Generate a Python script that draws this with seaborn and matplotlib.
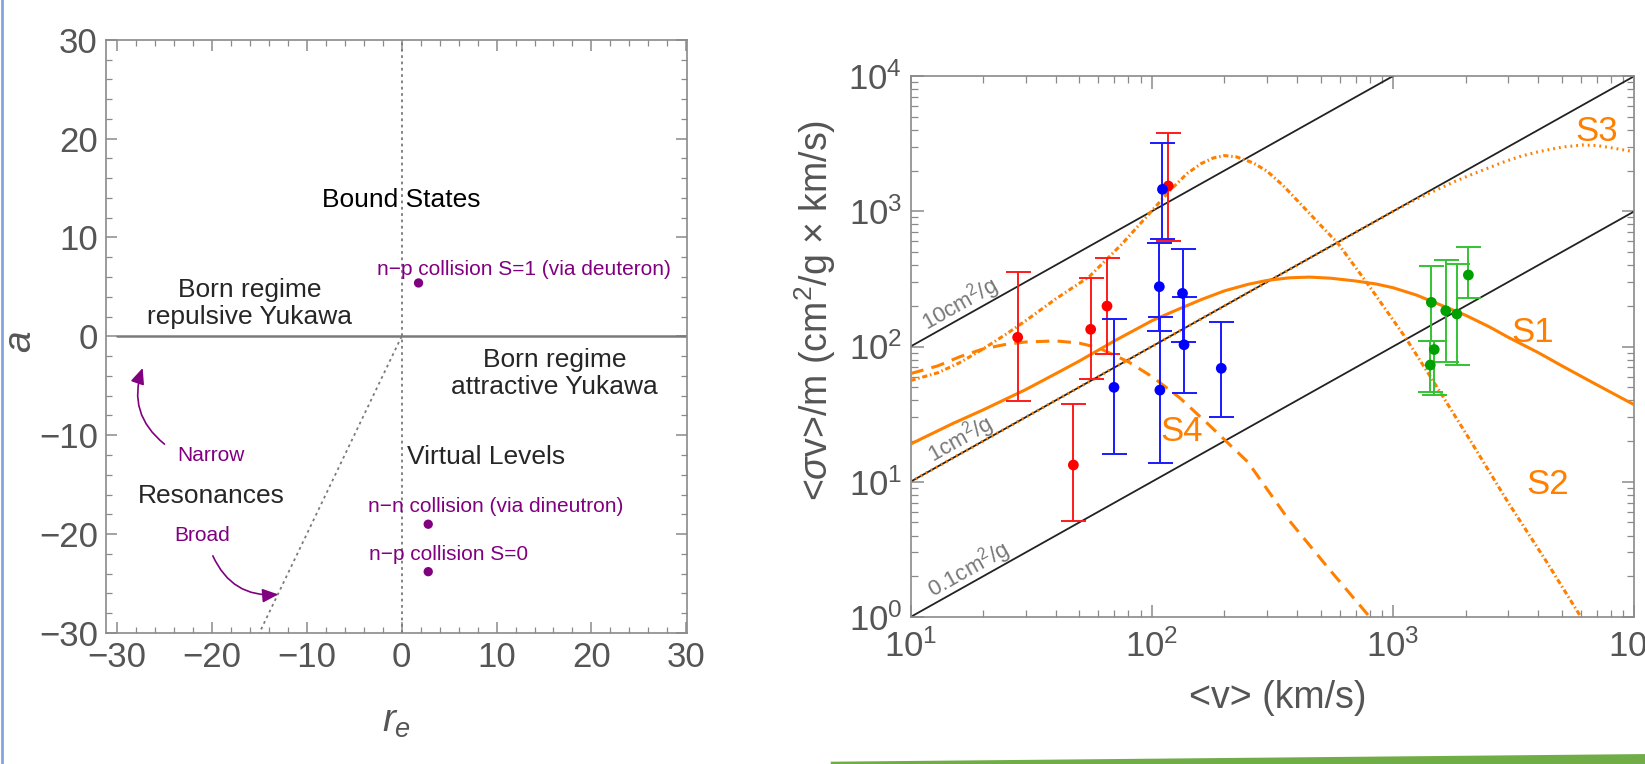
import matplotlib
matplotlib.use("Agg")
import matplotlib.pyplot as plt
import matplotlib.ticker as mticker
from matplotlib.lines import Line2D
from matplotlib.patches import Polygon
import seaborn as sns
import pandas as pd
import numpy as np

sns.set_theme(style="ticks")
plt.rcParams["font.family"] = ["Liberation Sans", "DejaVu Sans"]
plt.rcParams["mathtext.fontset"] = "custom"
plt.rcParams["mathtext.rm"] = "Liberation Sans"
plt.rcParams["mathtext.it"] = "Liberation Sans:italic"
plt.rcParams["mathtext.sf"] = "Liberation Sans"

PURPLE = "#800080"
ORANGE = "#ff8000"
GRAY = "#555555"
FRAME = "#8a8a8a"

# ----------------------------
# Left panel data (effective range r_e vs scattering length a)
# ----------------------------
nucleon_names = ["n\u2212p collision S=1 (via deuteron)",
                 "n\u2212n collision (via dineutron)",
                 "n\u2212p collision S=0"]
nucleon_re = [1.78, 2.8, 2.8]
nucleon_a = [5.4, -19.0, -23.8]
nucleon_label_x = [12.85, 9.95, 4.9]
nucleon_label_y = [6.8, -17.2, -22.1]

boundary_re = [0, -15]
boundary_a = [0, -30]

# ----------------------------
# Right panel data (<sigma v>/m vs <v>)
# ----------------------------
ref_v = [10, 10000]
ref_names = ["10cm$^2$/g", "1cm$^2$/g", "0.1cm$^2$/g"]
ref_values = [[100, 100000], [10, 10000], [1, 1000]]
ref_label_v = [16.0, 16.0, 17.3]
ref_label_y = [205, 20.5, 2.25]

s1_v = [10, 15, 20, 30, 40, 50, 70, 100, 130, 160, 200, 250, 300, 370, 450, 550, 700, 850, 1000,
        1250, 1500, 2000, 2500, 3000, 4000, 5000, 7000, 10000]
s1_y = [19, 27, 34, 48, 63, 78, 110, 155, 190, 222, 258, 288, 308, 322, 326, 320, 305, 290, 272,
        240, 210, 170, 140, 117, 90, 72, 52, 37]

s2_v = [10, 13, 16, 20, 25, 30, 40, 55, 75, 95, 120, 140, 160, 180, 200, 225, 263, 300, 350, 410,
        500, 590, 790, 1130, 1500, 2080, 3000, 4300, 6000]
s2_y = [56, 64, 76, 96, 124, 155, 225, 328, 570, 910, 1450, 1900, 2250, 2480, 2580, 2520, 2280,
        1980, 1550, 1150, 790, 580, 285, 115, 52, 20.4, 7.0, 2.6, 1.0]

s3_v = [10, 100, 1000, 1250, 1510, 1800, 2090, 2500, 2890, 3400, 4000, 5000, 6100, 7000, 8000, 10000]
s3_y = [10, 100, 1000, 1230, 1436, 1660, 1854, 2100, 2323, 2560, 2754, 2980, 3090, 3060, 2950, 2750]

s4_v = [10, 13, 16, 20, 25, 30, 40, 50, 60, 80, 100, 130, 170, 250, 370, 550, 800]
s4_y = [63, 72, 84, 96, 104, 108, 110, 106, 98, 77, 60, 42, 27, 14, 5.2, 2.2, 1.0]

curve_names = ["S1", "S2", "S3", "S4"]
curve_label_v = [3800, 4350, 7000, 133]
curve_label_y = [128, 9.5, 3900, 23.4]

red_v = [27.8, 47.3, 55.8, 65.2, 117]
red_y = [117, 13.3, 134, 199, 1538]
red_lo = [39.5, 5.15, 57.2, 87.5, 603]
red_hi = [354, 37.4, 319, 454, 3770]

blue_v = [69.7, 107.4, 110.7, 108, 134, 136, 194]
blue_y = [49.9, 277, 1453, 47.6, 247, 103, 69]
blue_lo = [16.0, 131, 621, 13.7, 108, 45.6, 30.3]
blue_hi = [160, 586, 3210, 164, 528, 233, 153]

green_v = [1440, 1652, 1837, 2050, 1480, 1425]
green_y = [212, 184, 174, 338, 95, 73]
green_lo = [110, 77, 73, 227, 44, 46.4]
green_hi = [396, 437, 408, 545, 110, 110]

# ----------------------------
# Figure
# ----------------------------
fig = plt.figure(figsize=(16.45, 7.64), dpi=100)
ax1 = fig.add_axes([0.0645, 0.1715, 0.353, 0.7765])
ax2 = fig.add_axes([0.5535, 0.1924, 0.4401, 0.7081])

for ax in (ax1, ax2):
    for sp in ax.spines.values():
        sp.set_color(FRAME)
        sp.set_linewidth(1.2)

# ---- left panel ----
ax1.axhline(0, xmin=0.018, color="#7a7a7a", lw=1.8)
ax1.axvline(0, color="#7a7a7a", lw=1.3, linestyle=(0, (1.5, 2.0)))
sns.lineplot(x=boundary_re, y=boundary_a, ax=ax1, color="#7a7a7a", lw=1.3,
             linestyle=(0, (1.5, 2.0)), sort=False)
sns.scatterplot(x=nucleon_re, y=nucleon_a, ax=ax1, color=PURPLE, s=45, edgecolor="none", zorder=5)
for name, tx, ty in zip(nucleon_names, nucleon_label_x, nucleon_label_y):
    ax1.text(tx, ty, name, color=PURPLE, fontsize=15, ha="center", va="center")

ax1.text(0, 13.8, "Bound States", fontsize=19, ha="center", va="center", color="black")
ax1.text(-16.0, 3.3, "Born regime\nrepulsive Yukawa", fontsize=19, ha="center", va="center",
         linespacing=1.15)
ax1.text(16.1, -3.75, "Born regime\nattractive Yukawa", fontsize=19, ha="center", va="center",
         linespacing=1.15)
ax1.text(8.9, -12.25, "Virtual Levels", fontsize=19, ha="center", va="center")
ax1.text(-20.1, -16.1, "Resonances", fontsize=19, ha="center", va="center")
ax1.text(-20.1, -12.05, "Narrow", fontsize=15, ha="center", va="center", color=PURPLE)
ax1.text(-21.0, -20.1, "Broad", fontsize=15, ha="center", va="center", color=PURPLE)
ax1.annotate("", xy=(-27.3, -3.2), xytext=(-25.0, -10.9),
             arrowprops=dict(arrowstyle="-|>,head_length=0.8,head_width=0.35", color=PURPLE,
                             lw=1.2, connectionstyle="arc3,rad=-0.35", shrinkA=0, shrinkB=0))
ax1.annotate("", xy=(-13.0, -26.1), xytext=(-19.9, -22.2),
             arrowprops=dict(arrowstyle="-|>,head_length=0.8,head_width=0.35", color=PURPLE,
                             lw=1.2, connectionstyle="arc3,rad=0.35", shrinkA=0, shrinkB=0))

ax1.set_xlim(-31.15, 30.05)
ax1.set_ylim(-30, 30)
ax1.set_xticks(range(-30, 31, 10))
ax1.set_yticks(range(-30, 31, 10))
ax1.xaxis.set_minor_locator(mticker.MultipleLocator(2))
ax1.yaxis.set_minor_locator(mticker.MultipleLocator(2))
ax1.set_xticklabels([f"{t}".replace("-", "\u2212") for t in range(-30, 31, 10)])
ax1.set_yticklabels([f"{t}".replace("-", "\u2212") for t in range(-30, 31, 10)])
ax1.tick_params(which="both", direction="in", top=True, right=True, color=FRAME,
                labelcolor=GRAY, labelsize=25)
ax1.tick_params(which="major", length=8, width=1.1, pad=6)
ax1.tick_params(which="minor", length=4, width=0.9)
ax1.set_xlabel("$r_e$", fontsize=28, color=GRAY)
ax1.set_ylabel("$a$", fontsize=28, color=GRAY)
ax1.xaxis.set_label_coords(0.5, -0.15)
ax1.yaxis.set_label_coords(-0.147, 0.49)

# ---- right panel ----
ax2.set_xscale("log")
ax2.set_yscale("log")

for vals in ref_values:
    sns.lineplot(x=ref_v, y=vals, ax=ax2, color="#222222", lw=1.3)
for name, lv, ly in zip(ref_names, ref_label_v, ref_label_y):
    ax2.text(lv, ly, name, color="#777777", fontsize=16, ha="center", va="center", rotation=29.3)

curves = pd.concat([
    pd.DataFrame({"v": s1_v, "y": s1_y, "model": "S1"}),
    pd.DataFrame({"v": s2_v, "y": s2_y, "model": "S2"}),
    pd.DataFrame({"v": s3_v, "y": s3_y, "model": "S3"}),
    pd.DataFrame({"v": s4_v, "y": s4_y, "model": "S4"}),
])
sns.lineplot(data=curves, x="v", y="y", hue="model", style="model", ax=ax2,
             palette={m: ORANGE for m in curve_names},
             dashes={"S1": "", "S2": (1.7, 0.9, 0.5, 0.9), "S3": (0.6, 1.3), "S4": (4.4, 2.7)},
             lw=2.2, legend=False, sort=False, zorder=3)
for name, lv, ly in zip(curve_names, curve_label_v, curve_label_y):
    ax2.text(lv, ly, name, color=ORANGE, fontsize=25, ha="center", va="center")

for v, y, lo, hi, bar_c, pt_c in [
        (red_v, red_y, red_lo, red_hi, "#ff1a1a", "#ff0000"),
        (blue_v, blue_y, blue_lo, blue_hi, "#1a1aff", "#0000ff"),
        (green_v, green_y, green_lo, green_hi, "#33c233", "#00a000")]:
    y_arr = np.array(y)
    yerr = [y_arr - np.array(lo), np.array(hi) - y_arr]
    ax2.errorbar(v, y, yerr=yerr, fmt="none", ecolor=bar_c, elinewidth=1.4, capsize=9,
                 capthick=1.4, zorder=4)
    sns.scatterplot(x=v, y=y, ax=ax2, color=pt_c, s=60, edgecolor="none", zorder=5)

ax2.set_xlim(10, 1e4)
ax2.set_ylim(1, 1e4)
ax2.xaxis.set_major_locator(mticker.LogLocator(base=10, numticks=10))
ax2.yaxis.set_major_locator(mticker.LogLocator(base=10, numticks=10))
ax2.xaxis.set_minor_locator(mticker.LogLocator(base=10, subs=np.arange(2, 10), numticks=20))
ax2.yaxis.set_minor_locator(mticker.LogLocator(base=10, subs=np.arange(2, 10), numticks=20))
ax2.xaxis.set_minor_formatter(mticker.NullFormatter())
ax2.yaxis.set_minor_formatter(mticker.NullFormatter())
ax2.tick_params(which="both", direction="in", top=True, right=True, color=FRAME,
                labelcolor=GRAY, labelsize=25)
ax2.tick_params(which="major", length=9, width=1.1, pad=6)
ax2.tick_params(axis="x", which="major", pad=9)
ax2.tick_params(which="minor", length=5, width=0.9)
ax2.set_xlabel("<v> (km/s)", fontsize=27, color=GRAY)
ax2.set_ylabel(r"<$\sigma$v>/m (cm$^2$/g $\times$ km/s)", fontsize=27, color=GRAY)
ax2.xaxis.set_label_coords(0.507, -0.15)
ax2.yaxis.set_label_coords(-0.131, 0.567)
for lab in (ax1.xaxis.label, ax1.yaxis.label, ax2.xaxis.label, ax2.yaxis.label):
    lab.set_va("center")

# slide decorations
fig.add_artist(Line2D([0.0015, 0.0015], [0, 1], transform=fig.transFigure, color="#86a3dd", lw=2))
fig.add_artist(Polygon([(0.505, 0.0), (1.0, 0.0), (1.0, 0.013), (0.505, 0.003)],
                       closed=True, transform=fig.transFigure, color="#70ad47", lw=0))

fig.savefig("out.png", dpi=100)
